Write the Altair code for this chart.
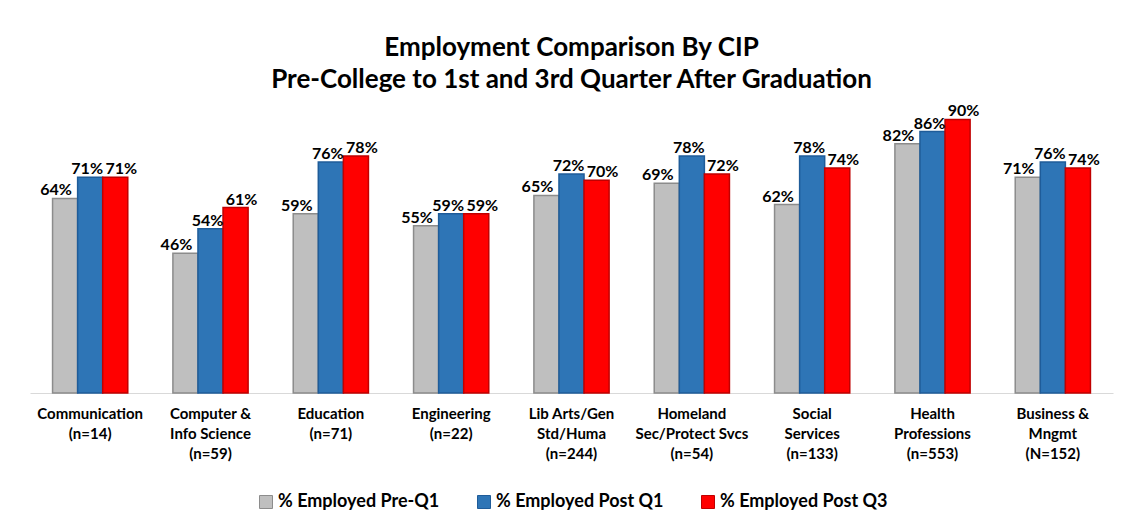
import altair as alt
import pandas as pd

categories = [
    "Communication\n(n=14)",
    "Computer &\nInfo Science\n(n=59)",
    "Education\n(n=71)",
    "Engineering\n(n=22)",
    "Lib Arts/Gen\nStd/Huma\n(n=244)",
    "Homeland\nSec/Protect Svcs\n(n=54)",
    "Social\nServices\n(n=133)",
    "Health\nProfessions\n(n=553)",
    "Business &\nMngmt\n(N=152)",
]
series = ["% Employed Pre-Q1", "% Employed Post Q1", "% Employed Post Q3"]
pre_q1 = [64, 46, 59, 55, 65, 69, 62, 82, 71]
post_q1 = [71, 54, 76, 59, 72, 78, 78, 86, 76]
post_q3 = [71, 61, 78, 59, 70, 72, 74, 90, 74]

fill_colors = ["#BFBFBF", "#2E75B6", "#FF0000"]
stroke_colors = ["#8C8C8C", "#1F5C99", "#C00000"]
label_dx = [-9, -3, 6]

rows = []
for s, vals in zip(series, [pre_q1, post_q1, post_q3]):
    for c, v in zip(categories, vals):
        rows.append({"category": c, "series": s, "value": v})
df = pd.DataFrame(rows)

FONT = "Lato"

x_enc = alt.X(
    "category:N",
    sort=categories,
    scale=alt.Scale(paddingInner=0.375, paddingOuter=0.1875),
    axis=alt.Axis(
        title=None,
        labelAngle=0,
        labelExpr="split(datum.label, '\\n')",
        labelFont=FONT,
        labelFontSize=15,
        labelFontWeight="bold",
        labelColor="#000000",
        labelLineHeight=20,
        labelBaseline="top",
        labelPadding=13,
        ticks=False,
        domainColor="#D9D9D9",
        domainWidth=1,
        labelLimit=300,
    ),
)
xoff_enc = alt.XOffset("series:N", sort=series, scale=alt.Scale(paddingInner=0, paddingOuter=0))
y_enc = alt.Y("value:Q", scale=alt.Scale(domain=[0, 100]), axis=None)

base = alt.Chart(df)

bars = base.mark_bar(strokeWidth=1.5).encode(
    x=x_enc,
    xOffset=xoff_enc,
    y=y_enc,
    color=alt.Color(
        "series:N",
        sort=series,
        scale=alt.Scale(domain=series, range=fill_colors),
        legend=alt.Legend(
            title=None,
            orient="none",
            legendX=227,
            legendY=404,
            direction="horizontal",
            symbolType="square",
            symbolSize=169,
            symbolStrokeWidth=1,
            labelFont=FONT,
            labelFontSize=18,
            labelFontWeight="bold",
            labelColor="#000000",
            labelOffset=3,
            labelLimit=400,
            columnPadding=35,
        ),
    ),
    stroke=alt.Stroke(
        "series:N",
        sort=series,
        scale=alt.Scale(domain=series, range=stroke_colors),
        legend=None,
    ),
)

texts = []
for s, dx in zip(series, label_dx):
    t = (
        base.transform_filter(alt.datum.series == s)
        .transform_calculate(lbl="datum.value + '%'")
        .mark_text(
            font=FONT,
            fontSize=16,
            fontWeight="bold",
            color="#000000",
            baseline="alphabetic",
            dy=-3,
            dx=dx,
        )
        .encode(x=x_enc, xOffset=xoff_enc, y=y_enc, text="lbl:N")
    )
    texts.append(t)

chart = (
    alt.layer(bars, *texts)
    .properties(
        width=1083,
        height=304,
        title=alt.Title(
            text=[
                "Employment Comparison By CIP",
                "Pre-College to 1st and 3rd Quarter After Graduation",
            ],
            font=FONT,
            fontSize=26,
            fontWeight="bold",
            color="#000000",
            lineHeight=32,
            anchor="middle",
            offset=0,
            dy=4,
        ),
        autosize=alt.AutoSizeParams(type="none"),
        padding={"left": 22, "top": 81, "right": 6, "bottom": 125},
    )
    .configure(font=FONT)
    .configure_view(stroke=None)
)

chart.save("out.html", embed_options={"renderer": "svg", "actions": False})
